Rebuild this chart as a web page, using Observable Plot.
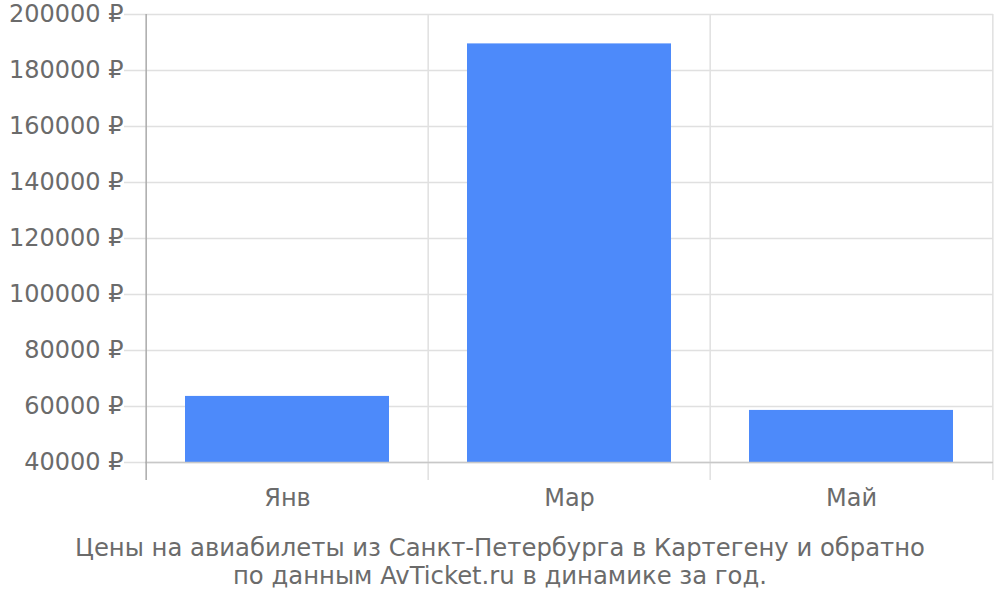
<!DOCTYPE html>
<html>
<head>
<meta charset="utf-8">
<script src="https://cdn.jsdelivr.net/npm/d3@7"></script>
<script src="https://cdn.jsdelivr.net/npm/@observablehq/plot@0.6"></script>
<style>
  html, body { margin: 0; padding: 0; background: #fff; }
  #chart { width: 1000px; height: 534px; }
  #caption { width: 1000px; text-align: center; font-family: "DejaVu Sans", sans-serif; font-size: 24.3px; line-height: 28px; color: #6b6b6b; margin-top: 0; }
  svg text { font-family: "DejaVu Sans", sans-serif; }
</style>
</head>
<body>
<div id="chart"></div>
<div id="caption">Цены на авиабилеты из Санкт-Петербурга в Картегену и обратно<br>по данным AvTicket.ru в динамике за год.</div>
<script>
const months = ["Янв", "Мар", "Май"];
const prices = [63600, 189500, 58600];
const yTicks = [40000, 60000, 80000, 100000, 120000, 140000, 160000, 180000, 200000];

const data = months.map((m, i) => ({month: m, price: prices[i]}));

const W = 1000, H = 534;
const mL = 145, mR = 7, mT = 14, mB = 72;
const bw = (W - mL - mR) / months.length;

const plot = Plot.plot({
  width: W,
  height: H,
  marginLeft: mL,
  marginRight: mR,
  marginTop: mT,
  marginBottom: mB,
  style: {fontFamily: "DejaVu Sans, sans-serif", fontSize: "24px", color: "#6b6b6b", background: "#fff", overflow: "visible"},
  x: {type: "band", domain: months, padding: 0, label: null},
  y: {domain: [40000, 200000], label: null},
  marks: [
    // horizontal grid with left tick stubs
    Plot.ruleY(yTicks, {stroke: "#e0e0e0", strokeWidth: 1.5, insetLeft: -21}),
    // vertical gridlines at band boundaries
    Plot.ruleX(months.slice(1), {x: d => d, dx: -bw / 2, y1: 200000, y2: 40000, stroke: "#e0e0e0", strokeWidth: 1.5, insetBottom: -18}),
    Plot.ruleX([months[months.length - 1]], {x: d => d, dx: bw / 2, y1: 200000, y2: 40000, stroke: "#e0e0e0", strokeWidth: 1.5, insetBottom: -18}),
    Plot.barY(data, {x: "month", y1: 40000, y2: "price", fill: "#4d8afa", insetLeft: 39, insetRight: 39}),
    // bottom baseline
    Plot.ruleY([40000], {stroke: "#c8c8c8", strokeWidth: 1.5}),
    // left axis line
    Plot.ruleX([months[0]], {x: d => d, dx: -bw / 2, y1: 200000, y2: 40000, stroke: "#aaa", strokeWidth: 1.5, insetBottom: -18}),
    Plot.axisY({ticks: yTicks, tickSize: 0, tickPadding: 22, tickFormat: d => d + " ₽", fill: "#6b6b6b", fontSize: 24}),
    Plot.axisX({tickSize: 0, tickPadding: 26, fill: "#6b6b6b", fontSize: 24})
  ]
});
document.getElementById("chart").appendChild(plot);
</script>
</body>
</html>
